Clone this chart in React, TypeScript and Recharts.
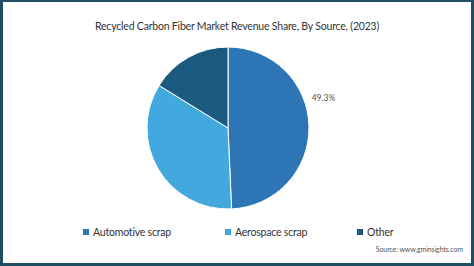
import React from 'react';
import { PieChart, Pie, Cell, Legend } from 'recharts';

const sources = ['Automotive scrap', 'Aerospace scrap', 'Other'];
const shares = [49.3, 34.5, 16.2];
const colors = ['#2e75b6', '#42a9df', '#1b5a80'];

const data = sources.map((name, i) => ({ name, value: shares[i] }));

const FONT = 'Lato, "Noto Sans", sans-serif';
const RAD = Math.PI / 180;

// only the automotive slice carries a label, placed up-right of the pie
const renderLabel = (props: any) => {
  const { cx, cy, outerRadius, index, value } = props;
  if (index !== 0) return null;
  const angle = 20;
  const r = outerRadius + 8;
  const x = cx + r * Math.cos(angle * RAD);
  const y = cy - r * Math.sin(angle * RAD);
  return (
    <text x={x} y={y} fill="#555" fontSize={8.5} fontFamily={FONT} textAnchor="start" dominantBaseline="central">
      {`${value}%`}
    </text>
  );
};

const itemWidths = [142, 132, 60];

// keep the legend in source order (recharts sorts it by name otherwise)
const renderLegend = (props: any) => {
  const payload = [...(props.payload || [])].sort(
    (a: any, b: any) => sources.indexOf(a.value) - sources.indexOf(b.value)
  );
  return (
    <div style={{ display: 'flex', fontFamily: FONT, fontSize: 10.5, letterSpacing: -0.2, color: '#333' }}>
      {payload.map((entry: any, i: number) => (
        <div key={entry.value} style={{ width: itemWidths[i], display: 'flex', alignItems: 'center' }}>
          <span style={{ width: 6, height: 6, background: entry.color, marginRight: 4, display: 'inline-block' }} />
          <span>{entry.value}</span>
        </div>
      ))}
    </div>
  );
};

const App = () => {
  return (
    <div
      style={{
        position: 'fixed',
        left: 0,
        top: 0,
        width: 474,
        height: 266,
        boxSizing: 'border-box',
        border: '3px solid #1d4e63',
        borderTopWidth: 2,
        background: '#fff',
        overflow: 'hidden',
      }}
    >
      <div
        style={{
          position: 'absolute',
          top: 18,
          left: 0,
          width: 468,
          textAlign: 'center',
          fontFamily: FONT,
          fontSize: 10.5,
          letterSpacing: -0.2,
          color: '#333',
        }}
      >
        Recycled Carbon Fiber Market Revenue Share, By Source, (2023)
      </div>
      <div style={{ position: 'absolute', left: -3, top: -2 }}>
        <PieChart width={474} height={266} margin={{ top: 0, right: 0, bottom: 0, left: 0 }}>
          <Pie
            data={data}
            dataKey="value"
            nameKey="name"
            cx={228}
            cy={128}
            outerRadius={81}
            startAngle={90}
            endAngle={-270}
            stroke="#fff"
            strokeWidth={1}
            label={renderLabel}
            labelLine={false}
            isAnimationActive={false}
          >
            {data.map((d, i) => (
              <Cell key={d.name} fill={colors[i]} />
            ))}
          </Pie>
          <Legend
            content={renderLegend}
            wrapperStyle={{ left: 83, top: 226, width: 360 }}
          />
        </PieChart>
      </div>
      <div
        style={{
          position: 'absolute',
          right: 8,
          top: 243,
          fontFamily: FONT,
          fontSize: 7,
          letterSpacing: -0.1,
          color: '#555',
        }}
      >
        Source: www.gminsights.com
      </div>
    </div>
  );
};

export default App;
